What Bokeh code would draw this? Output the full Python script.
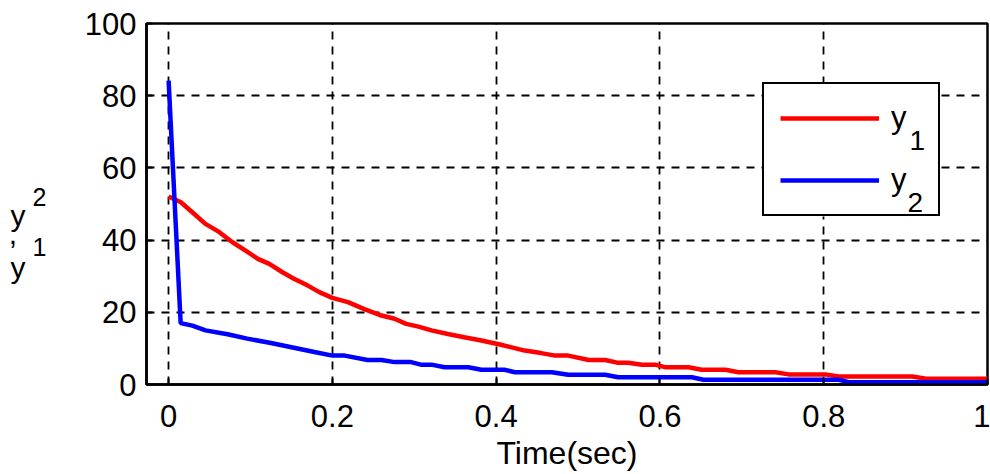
from bokeh.plotting import figure
from bokeh.models import (Range1d, FixedTicker, NumeralTickFormatter, Legend, LegendItem, Label,
                          LinearAxis, CustomJSTickFormatter, BoxAnnotation)
from bokeh.embed import file_html
from bokeh.resources import INLINE

# ---- data ----
t1 = [0, 0.015, 0.031, 0.045, 0.062, 0.078, 0.094, 0.109, 0.123, 0.139, 0.153, 0.170,
      0.184, 0.200, 0.219, 0.239, 0.260, 0.276, 0.290, 0.304, 0.321, 0.341, 0.361, 0.382,
      0.406, 0.435, 0.455, 0.472, 0.488, 0.513, 0.533, 0.549, 0.561, 0.578, 0.594, 0.606,
      0.635, 0.651, 0.680, 0.696, 0.741, 0.757, 0.802, 0.818, 0.908, 0.925, 1.0]
y1 = [52.1, 50.5, 47.3, 44.5, 42.2, 39.4, 37.1, 34.8, 33.4, 31.1, 29.3, 27.4,
      25.6, 24.0, 22.8, 20.9, 19.1, 18.2, 16.8, 16.1, 15.0, 14.0, 13.1, 12.2,
      11.0, 9.4, 8.7, 8.0, 8.0, 6.8, 6.8, 6.0, 6.0, 5.5, 5.5, 4.8,
      4.8, 4.1, 4.1, 3.4, 3.4, 2.8, 2.8, 2.2, 2.2, 1.6, 1.6]

t2 = [0, 0.0147, 0.029, 0.045, 0.072, 0.096, 0.125, 0.153, 0.178, 0.200, 0.215, 0.243,
      0.260, 0.276, 0.296, 0.308, 0.321, 0.337, 0.366, 0.382, 0.410, 0.423, 0.468, 0.488,
      0.533, 0.549, 0.639, 0.653, 0.818, 0.831, 1.0]
y2 = [84.2, 17.0, 16.3, 15.0, 13.9, 12.7, 11.5, 10.2, 9.0, 8.0, 8.0, 6.8,
      6.8, 6.2, 6.2, 5.5, 5.5, 4.8, 4.8, 4.1, 4.1, 3.4, 3.4, 2.7,
      2.7, 2.0, 2.0, 1.3, 1.3, 0.65, 0.65]

x_ticks = [0, 0.2, 0.4, 0.6, 0.8, 1]
y_ticks = [0, 20, 40, 60, 80, 100]
x_label = "Time(sec)"
series_names = ["y", "y"]
series_subs = ["1", "2"]
# y-axis label as it appears in the reference: "y ² , ¹ y" stacked
ylab_main = ["y", ", ", "y"]
ylab_sup = ["2", "1"]

FONT = "Liberation Sans"

p = figure(width=990, height=474, output_backend="svg", toolbar_location=None,
           x_range=Range1d(-0.027, 1.0), y_range=Range1d(0, 100),
           min_border_left=146, min_border_right=3, min_border_top=23, min_border_bottom=90)
p.background_fill_color = "white"
p.border_fill_color = "white"
p.outline_line_color = "black"
p.outline_line_width = 2.5

for ax in (p.xaxis[0], p.yaxis[0]):
    ax.axis_line_color = "black"
    ax.axis_line_width = 2.5
    ax.major_tick_in = 6
    ax.major_tick_out = 0
    ax.major_tick_line_width = 2
    ax.minor_tick_line_color = None
    ax.major_label_text_font = FONT
    ax.major_label_text_font_size = "31px"
    ax.major_label_text_color = "black"

p.xaxis.ticker = FixedTicker(ticks=x_ticks)
p.yaxis.ticker = FixedTicker(ticks=y_ticks)
p.xaxis.formatter = NumeralTickFormatter(format="0.[0]")
p.yaxis.formatter = NumeralTickFormatter(format="0")
p.xaxis.major_label_standoff = 20
p.yaxis.major_label_standoff = 10
p.xaxis.axis_label = x_label
p.xaxis.axis_label_text_font = FONT
p.xaxis.axis_label_text_font_size = "32px"
p.xaxis.axis_label_text_font_style = "normal"
p.xaxis.axis_label_text_color = "black"
p.xaxis.axis_label_standoff = 5

# y label built from two label-only axes stacked left of the main y axis
def label_axis(texts, positions, size, standoff):
    a = LinearAxis(ticker=FixedTicker(ticks=positions),
                   formatter=CustomJSTickFormatter(args=dict(labels=texts),
                                                   code="return labels[index];"))
    a.axis_line_color = None
    a.major_tick_line_color = None
    a.minor_tick_line_color = None
    a.major_tick_in = 0
    a.major_tick_out = 0
    a.major_label_standoff = standoff
    a.major_label_text_font = FONT
    a.major_label_text_font_size = size
    a.major_label_text_color = "black"
    return a

p.add_layout(label_axis(ylab_sup, [52.0, 38.2], "25px", 35), "left")
p.add_layout(label_axis(ylab_main, [46.7, 41.7, 32.5], "30px", 4), "left")

for g in (p.xgrid[0], p.ygrid[0]):
    g.grid_line_color = "black"
    g.grid_line_width = 1.8
    g.grid_line_dash = "8 7"

r1 = p.line(t1, y1, line_color="#ff0000", line_width=4.5)
r2 = p.line(t2, y2, line_color="#0000ff", line_width=4.5)

# white background of the legend box (legend itself is transparent)
box = BoxAnnotation(left=616, right=793, bottom=168, top=301,
                    left_units="screen", right_units="screen",
                    bottom_units="screen", top_units="screen",
                    fill_color="white", fill_alpha=1.0, line_color=None)
p.add_layout(box)

# legend subscripts (screen units relative to the frame's bottom-left)
p.add_layout(Label(x=763, y=244, x_units="screen", y_units="screen", text=series_subs[0],
                   text_font=FONT, text_font_size="28px", text_baseline="alphabetic",
                   text_color="black"))
p.add_layout(Label(x=761, y=182, x_units="screen", y_units="screen", text=series_subs[1],
                   text_font=FONT, text_font_size="28px", text_baseline="alphabetic",
                   text_color="black"))

legend = Legend(items=[LegendItem(label=series_names[0], renderers=[r1]),
                       LegendItem(label=series_names[1], renderers=[r2])],
                location=(616, 168), orientation="vertical",
                padding=16, spacing=26, margin=0,
                glyph_width=99, glyph_height=30, label_height=30, label_width=31,
                label_standoff=12,
                label_text_font=FONT, label_text_font_size="31px", label_text_color="black",
                border_line_color="black", border_line_width=2.5, border_line_alpha=1.0,
                background_fill_alpha=0.0)
p.add_layout(legend, "center")

open("out.html", "w").write(file_html(p, INLINE))
